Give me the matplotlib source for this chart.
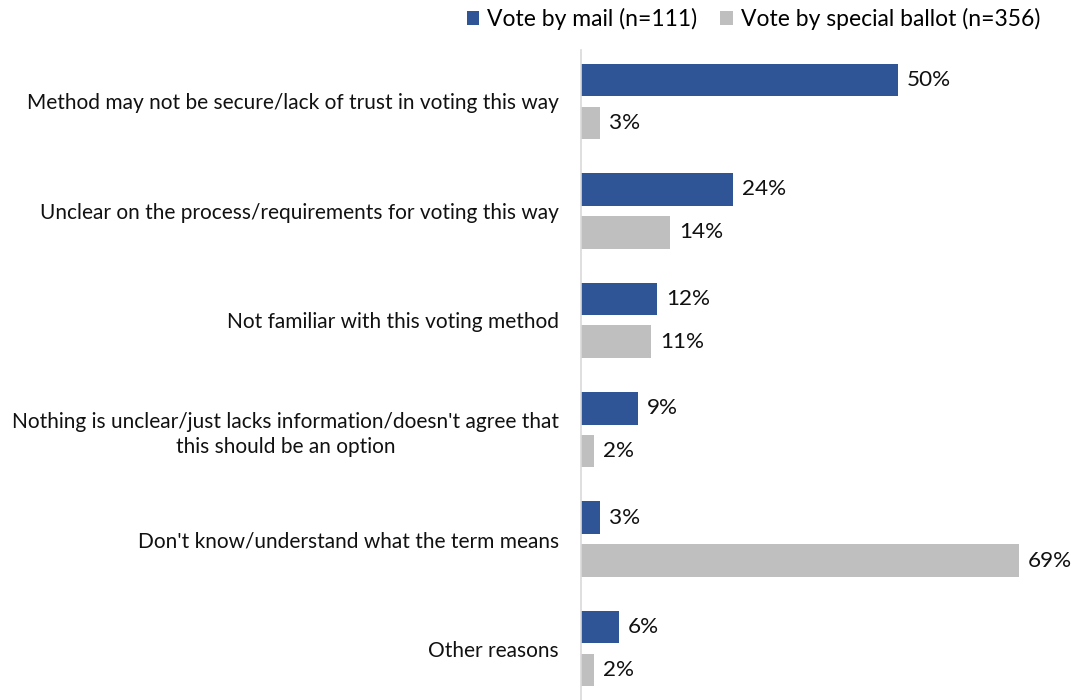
import numpy as np
import matplotlib.pyplot as plt

plt.rcParams['font.family'] = ['Lato', 'DejaVu Sans']

categories = [
    "Method may not be secure/lack of trust in voting this way",
    "Unclear on the process/requirements for voting this way",
    "Not familiar with this voting method",
    "Nothing is unclear/just lacks information/doesn't agree that\nthis should be an option",
    "Don't know/understand what the term means",
    "Other reasons",
]
mail = [50, 24, 12, 9, 3, 6]
special = [3, 14, 11, 2, 69, 2]
series_names = ["Vote by mail (n=111)", "Vote by special ballot (n=356)"]

blue = "#2F5597"
gray = "#BFBFBF"

fig = plt.figure(figsize=(10.76, 7.0), dpi=100)
ax = fig.add_axes([0.54, 0.0, 0.46, 1 - 50 / 700])

y = np.arange(len(categories))
h = 0.297
off = 0.196
b1 = ax.barh(y - off, mail, height=h, color=blue, label=series_names[0])
b2 = ax.barh(y + off, special, height=h, color=gray, label=series_names[1])

# value labels just past the end of each bar
for bars, vals in [(b1, mail), (b2, special)]:
    for bar, v in zip(bars, vals):
        ax.text(v + 1.4, bar.get_y() + bar.get_height() / 2, f"{v}%",
                va="center", ha="left", fontsize=16.2, color="#111111")

ax.set_xlim(0, 78)
ax.set_ylim(5.47, -0.47)
ax.set_yticks(y)
ax.set_yticklabels(categories, fontsize=15, color="#111111",
                   multialignment="center", linespacing=1.35)
ax.tick_params(axis="y", length=0, pad=16)
ax.set_xticks([])
for s in ["top", "right", "bottom"]:
    ax.spines[s].set_visible(False)
ax.spines["left"].set_color("#D9D9D9")
ax.spines["left"].set_linewidth(1.2)

fig.legend(handles=[b1, b2], loc="upper right", bbox_to_anchor=(0.986, 1.018),
           ncol=2, frameon=False, fontsize=16.5, handlelength=0.55, handleheight=0.55,
           handletextpad=0.35, columnspacing=1.0)

fig.savefig("out.png", dpi=100)
